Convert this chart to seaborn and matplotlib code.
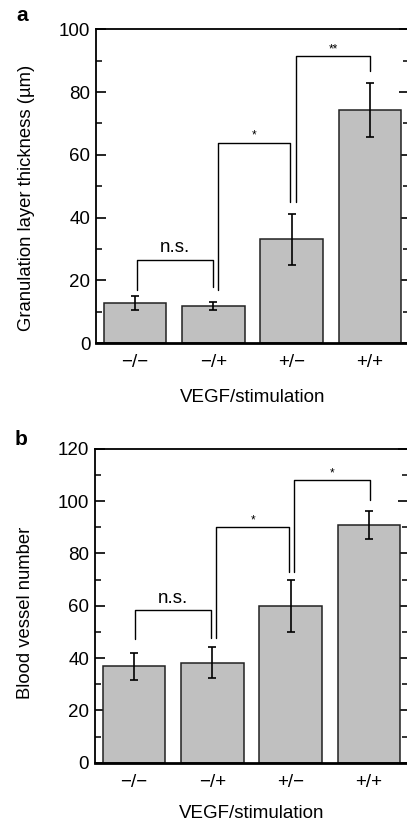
import matplotlib
matplotlib.use('Agg')
import matplotlib.pyplot as plt
import seaborn as sns
import pandas as pd
from matplotlib.ticker import MultipleLocator

# -----------------------------
# Data
# -----------------------------
groups = ["\u2212/\u2212", "\u2212/+", "+/\u2212", "+/+"]

thickness = [12.8, 11.8, 33.1, 74.3]
thickness_err = [2.2, 1.2, 8.2, 8.6]

vessels = [36.8, 38.2, 59.9, 90.9]
vessels_err = [5.3, 6.0, 10.0, 5.3]

# brackets: (left x, right x, bar height, left leg bottom, right leg bottom, label)
brackets_a = [
    (0.02, 0.99, 26.6, 17.0, 18.0, "n.s."),
    (1.06, 1.98, 63.9, 17.0, 45.0, "*"),
    (2.06, 3.0, 91.5, 45.0, 86.7, "**"),
]
brackets_b = [
    (0.01, 0.98, 58.2, 47.1, 47.5, "n.s."),
    (1.05, 1.98, 90.0, 47.5, 73.0, "*"),
    (2.04, 3.01, 107.9, 73.0, 100.4, "*"),
]

# -----------------------------
# Style
# -----------------------------
sns.set_theme(style="ticks")
plt.rcParams['font.family'] = ['Liberation Sans', 'DejaVu Sans']
plt.rcParams['text.color'] = 'black'
plt.rcParams['axes.labelcolor'] = 'black'
plt.rcParams['xtick.color'] = 'black'
plt.rcParams['ytick.color'] = 'black'

FS = 13.5

fig = plt.figure(figsize=(4.07, 8.23), dpi=100)
ax_a = fig.add_axes([0.236, 0.5829, 0.769, 0.3815])
ax_b = fig.add_axes([0.2327, 0.0733, 0.770, 0.3815])


def draw_panel(ax, values, errs, ymax, major, brackets, ylabel, ylab_y, tag, tag_y, xpad):
    df = pd.DataFrame({"group": groups, "value": values})
    sns.barplot(data=df, x="group", y="value", color="#c0c0c0", saturation=1,
                width=0.8, edgecolor="#222222", linewidth=1.1, errorbar=None, ax=ax)
    ax.errorbar(range(len(groups)), values, yerr=errs, fmt="none", ecolor="black",
                elinewidth=1.2, capsize=3, capthick=1.2, zorder=5)

    for x0, x1, h, b0, b1, label in brackets:
        ax.plot([x0, x0, x1, x1], [b0, h, h, b1], color="black", lw=1.0, zorder=6)
        if label == "n.s.":
            ax.text((x0 + x1) / 2, h + ymax * 0.011, label, ha="center",
                    va="bottom", fontsize=FS)
        else:
            ax.text((x0 + x1) / 2, h + ymax * 0.003, label, ha="center",
                    va="bottom", fontsize=8.5)

    ax.set_xlim(-0.5, 3.5)
    ax.set_ylim(0, ymax)
    ax.yaxis.set_major_locator(MultipleLocator(major))
    ax.yaxis.set_minor_locator(MultipleLocator(major / 2))
    ax.tick_params(axis="y", which="major", direction="in", length=7, width=1.2,
                   right=True, labelsize=FS, pad=4)
    ax.tick_params(axis="y", which="minor", direction="in", length=4.5, width=1.1, right=True)
    ax.tick_params(axis="x", length=0, labelsize=FS, pad=8)

    for side in ["left", "top", "right"]:
        ax.spines[side].set_visible(True)
        ax.spines[side].set_linewidth(1.3)
        ax.spines[side].set_color("black")
    ax.spines["bottom"].set_linewidth(2.0)
    ax.spines["bottom"].set_color("black")

    ax.set_xlabel("VEGF/stimulation", fontsize=FS, labelpad=xpad)
    ax.set_ylabel(ylabel, fontsize=13.3)
    ax.yaxis.set_label_coords(-0.195, ylab_y)
    ax.text(-0.255, tag_y, tag, transform=ax.transAxes, fontsize=15,
            fontweight="bold", ha="left", va="center")


draw_panel(ax_a, thickness, thickness_err, 100, 20, brackets_a,
           "Granulation layer thickness (\u00b5m)", 0.462, "a", 1.045, 13)
draw_panel(ax_b, vessels, vessels_err, 120, 20, brackets_b,
           "Blood vessel number", 0.478, "b", 1.028, 10.5)

fig.savefig("out.png", dpi=100)
plt.close(fig)
